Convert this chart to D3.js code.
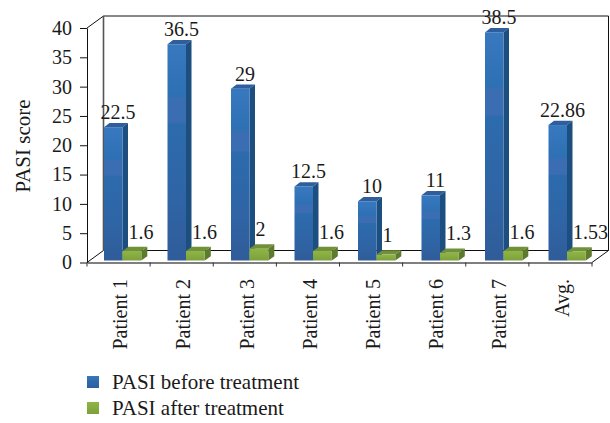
<!DOCTYPE html>
<html>
<head>
<meta charset="utf-8">
<script src="https://cdn.jsdelivr.net/npm/d3@7"></script>
<style>
  html, body { margin: 0; padding: 0; background: #fff; }
  svg { display: block; }
  text { font-family: "Liberation Serif", serif; fill: #1a1a1a; }
</style>
</head>
<body>
<div id="chart"></div>
<script>
// Data
var categories = ["Patient 1", "Patient 2", "Patient 3", "Patient 4", "Patient 5", "Patient 6", "Patient 7", "Avg."];
var before = [22.5, 36.5, 29, 12.5, 10, 11, 38.5, 22.86];
var after = [1.6, 1.6, 2, 1.6, 1, 1.3, 1.6, 1.53];
var yTicks = [0, 5, 10, 15, 20, 25, 30, 35, 40];
var seriesNames = ["PASI before treatment", "PASI after treatment"];

// Geometry variables
var width = 610,
    height = 423,
    depthX = 16.5,
    depthY = 12,
    barW = 18.5,
    barDx = 5.5,
    barDy = 4.3;

var svg = d3.select("#chart").append("svg")
    .attr("width", width)
    .attr("height", height);

// Gradients for the bar faces
var defs = svg.append("defs");
function gradient(id, stops) {
  var g = defs.append("linearGradient").attr("id", id)
      .attr("x1", 0).attr("y1", 0).attr("x2", 0).attr("y2", 1);
  stops.forEach(function(s) {
    g.append("stop").attr("offset", s[0]).attr("stop-color", s[1]);
  });
}
gradient("blueFront", [[0, "#3878bf"], [0.24, "#2e70b4"], [0.25, "#3a6db1"], [0.36, "#3a6db1"], [0.37, "#2c6bad"], [0.7, "#2f65a6"], [1, "#305c99"]]);
gradient("greenFront", [[0, "#8fb545"], [0.5, "#86ab40"], [1, "#7c9f3d"]]);

// Scales: the axis sits on the front plane, the bars a little further in
var axisX = d3.scaleBand().domain(categories).range([87, 592]);
var axisY = d3.scaleLinear().domain([0, 40]).range([262.5, 28]);
var barX = d3.scaleBand().domain(categories).range([89.5, 597.5]);
var barY = d3.scaleLinear().domain([0, 40]).range([260.5, 23.5]);

// Back wall and floor
var x0 = axisX.range()[0], x1 = axisX.range()[1];
var yB = axisY(0), yT = axisY(40);
var wall = svg.append("g").attr("fill", "none");
wall.append("path")
    .attr("d", "M" + x0 + "," + yT + "L" + (x0 + depthX) + "," + (yT - depthY) +
               "H" + (x1 + depthX) + "V" + (yB - depthY) + "L" + x1 + "," + yB)
    .attr("stroke", "#111").attr("stroke-width", 1);
wall.append("path")
    .attr("d", "M" + x0 + "," + yB + "L" + (x0 + depthX) + "," + (yB - depthY) + "H" + (x1 + depthX))
    .attr("stroke", "#111").attr("stroke-width", 1);
wall.append("line")
    .attr("x1", x0 + depthX).attr("x2", x0 + depthX)
    .attr("y1", yT - depthY).attr("y2", yB - depthY)
    .attr("stroke", "#555").attr("stroke-width", 1.6);

// Left axis
var yAxis = svg.append("g")
    .attr("transform", "translate(" + x0 + ",0)")
    .call(d3.axisLeft(axisY).tickValues(yTicks).tickSize(7).tickPadding(8).tickSizeOuter(0));
yAxis.select(".domain").attr("stroke", "#111").attr("stroke-width", 1);
yAxis.selectAll("line").attr("stroke", "#111");
yAxis.selectAll("text").attr("font-size", 20).attr("dy", "0.32em");

// Bottom axis
var xAxis = svg.append("g")
    .attr("transform", "translate(0," + yB + ")")
    .call(d3.axisBottom(axisX).tickSize(0).tickFormat(""));
xAxis.select(".domain").attr("stroke", "#555").attr("stroke-width", 1.6);
xAxis.selectAll("g.boundary").data(d3.range(categories.length + 1)).enter().append("line")
    .attr("x1", function(d) { return x0 + d * axisX.step(); })
    .attr("x2", function(d) { return x0 + d * axisX.step(); })
    .attr("y1", 0).attr("y2", 4)
    .attr("stroke", "#333");

svg.append("g").selectAll("text")
    .data(categories).enter().append("text")
    .attr("transform", function(d) {
      return "translate(" + (axisX(d) + axisX.bandwidth() / 2 + 8.8) + ",279) rotate(-90)";
    })
    .attr("text-anchor", "end")
    .attr("font-size", 20)
    .text(function(d) { return d; });

// Bars
function drawBars(values, offset, w, dx, dy, front, top, side) {
  var g = svg.append("g").selectAll("g")
      .data(values).enter().append("g")
      .attr("transform", function(d, i) {
        return "translate(" + (barX(categories[i]) + offset) + "," + barY(d) + ")";
      });
  g.append("path")
      .attr("d", "M0,0L" + dx + "," + (-dy) + "H" + (w + dx) + "L" + w + ",0Z")
      .attr("fill", top);
  g.append("path")
      .attr("d", function(d) {
        var h = barY(0) - barY(d);
        return "M" + w + ",0L" + (w + dx) + "," + (-dy) + "V" + (h - dy) + "L" + w + "," + h + "Z";
      })
      .attr("fill", side);
  g.append("rect")
      .attr("width", w)
      .attr("height", function(d) { return barY(0) - barY(d); })
      .attr("fill", front);
}

drawBars(before, 14.5, barW, barDx, barDy, "url(#blueFront)", "#2e5f9c", "#1d4e80");
drawBars(after, 33, 18.8, 6, 4.3, "url(#greenFront)", "#70903a", "#5d7a2e");

// Value labels
svg.append("g").selectAll("text")
    .data(before).enter().append("text")
    .attr("x", function(d, i) { return barX(categories[i]) + 14.5 + 14; })
    .attr("y", function(d) { return barY(d) - 8; })
    .attr("text-anchor", "middle")
    .attr("font-size", 20)
    .text(function(d) { return d; });

svg.append("g").selectAll("text")
    .data(after).enter().append("text")
    .attr("x", function(d, i) { return barX(categories[i]) + 33 + 6; })
    .attr("y", function(d) { return barY(d) - 12.5; })
    .attr("font-size", 20)
    .text(function(d) { return d; });

// Y title
svg.append("text")
    .attr("transform", "translate(30,146) rotate(-90)")
    .attr("text-anchor", "middle")
    .attr("font-size", 21)
    .text("PASI score");

// Legend
var legend = svg.append("g").selectAll("g")
    .data(seriesNames).enter().append("g")
    .attr("transform", function(d, i) { return "translate(87," + (376 + i * 26) + ")"; });
legend.append("rect")
    .attr("width", 12).attr("height", 12)
    .attr("fill", function(d, i) { return i == 0 ? "url(#blueFront)" : "url(#greenFront)"; });
legend.append("text")
    .attr("x", 25).attr("y", 13)
    .attr("font-size", 21)
    .text(function(d) { return d; });
</script>
</body>
</html>
